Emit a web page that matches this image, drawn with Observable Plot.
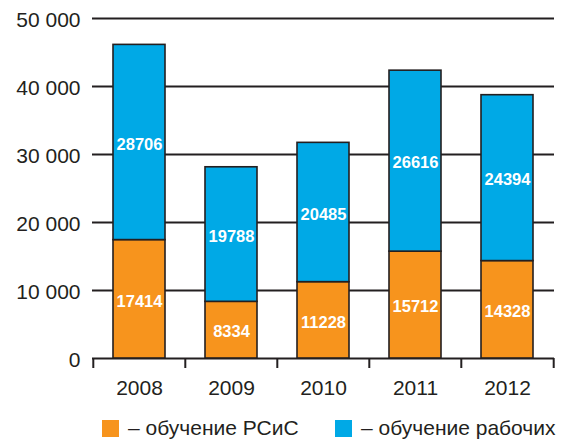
<!DOCTYPE html>
<html><head><meta charset="utf-8">
<script src="https://cdn.jsdelivr.net/npm/d3@7"></script>
<script src="https://cdn.jsdelivr.net/npm/@observablehq/plot@0.6"></script>
<style>
body{margin:0;background:#fff;font-family:"Liberation Sans",Arial,sans-serif;}
#chart{position:absolute;left:0;top:0;}
#legend{position:absolute;top:419px;left:0;width:568px;height:20px;font-size:21px;color:#231f20;}
.item{position:absolute;top:0;height:18px;display:flex;align-items:center;white-space:nowrap;}
.sw{width:17px;height:17px;margin-right:9px;flex:none;}
</style></head><body>
<div id="chart"></div>
<div id="legend"></div>
<script>
const years = ["2008", "2009", "2010", "2011", "2012"];
const seriesNames = ["обучение РСиС", "обучение рабочих"];
const rsisValues = [17414, 8334, 11228, 15712, 14328];
const workerValues = [28706, 19788, 20485, 26616, 24394];
const yTicks = [0, 10000, 20000, 30000, 40000, 50000];
const seriesColors = ["#f7941d", "#00a9e6"];

const data = [];
years.forEach((yr, i) => {
  data.push({year: yr, series: seriesNames[0], value: rsisValues[i]});
  data.push({year: yr, series: seriesNames[1], value: workerValues[i]});
});

const W = 568, H = 400, mL = 92, mR = 14, mT = 18, mB = 42;
const step = (W - mL - mR) / years.length;
const ink = "#231f20";
const fmt = d => d3.format(",")(d).replace(/,/g, " ");

const chart = Plot.plot({
  width: W, height: H,
  marginLeft: mL, marginRight: mR, marginTop: mT, marginBottom: mB,
  style: {fontFamily: "'Liberation Sans', Arial, sans-serif", background: "#fff", color: ink},
  x: {domain: years, paddingInner: 0.44, paddingOuter: 0.22, label: null},
  y: {domain: [0, 50000], label: null},
  color: {domain: seriesNames, range: seriesColors},
  marks: [
    Plot.ruleY(yTicks, {stroke: ink, strokeWidth: 1.8}),
    Plot.barY(data, {x: "year", y: "value", fill: "series", stroke: ink, strokeWidth: 1.6}),
    Plot.text(data, Plot.stackY({x: "year", y: "value", text: d => String(d.value), fill: "white", fontWeight: "bold", fontSize: 16.5, dy: 2})),
    Plot.ruleX(years, {x: d => d, y1: 0, y2: 0, insetBottom: -10, dx: -step / 2, stroke: ink, strokeWidth: 2}),
    Plot.ruleX([years[years.length - 1]], {x: d => d, y1: 0, y2: 0, insetBottom: -10, dx: step / 2, stroke: ink, strokeWidth: 2}),
    Plot.axisY(yTicks, {tickSize: 0, tickPadding: 12, tickFormat: fmt, fontSize: 21, fill: ink, dy: 2}),
    Plot.axisX({tickSize: 0, tickPadding: 22, fontSize: 21, fill: ink, label: null})
  ]
});
document.getElementById("chart").appendChild(chart);

const legend = document.getElementById("legend");
const lx = [102, 335];
seriesNames.forEach((name, i) => {
  const it = document.createElement("div");
  it.className = "item";
  it.style.left = lx[i] + "px";
  const sw = document.createElement("div");
  sw.className = "sw";
  sw.style.background = seriesColors[i];
  const t = document.createElement("span");
  t.textContent = "– " + name;
  it.appendChild(sw); it.appendChild(t);
  legend.appendChild(it);
});
</script>
</body></html>
